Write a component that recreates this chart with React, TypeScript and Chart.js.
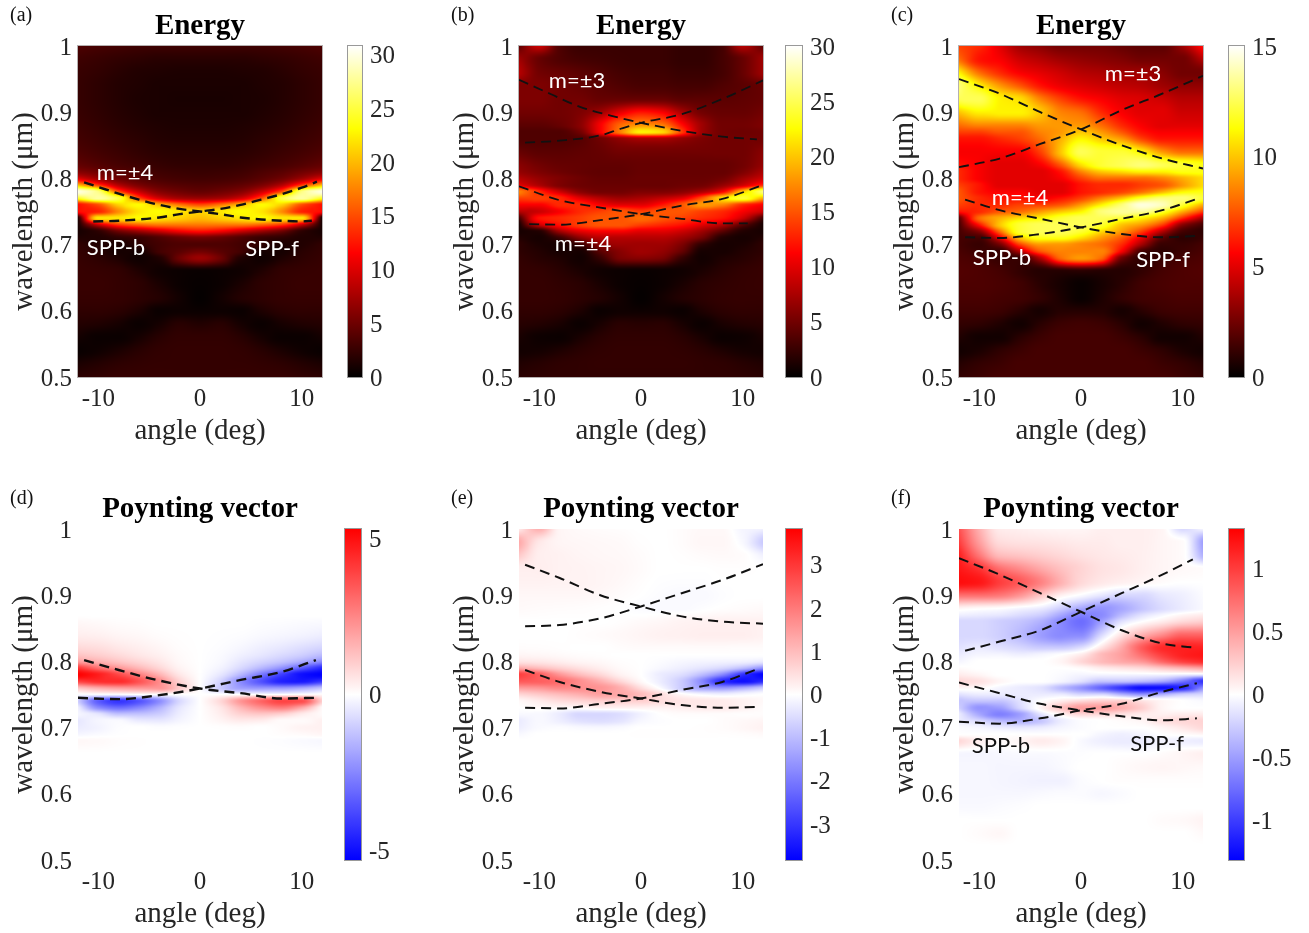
import React, { useEffect, useRef } from "react";
import { Chart, registerables } from "chart.js";

Chart.register(...registerables);

const angles = [-12, -10, -8, -6, -4, -2, 0, 2, 4, 6, 8, 10, 12];
const wavelengths = [1, 0.98, 0.96, 0.94, 0.92, 0.9, 0.88, 0.87, 0.86, 0.84, 0.82, 0.81, 0.8, 0.79, 0.78, 0.77, 0.76, 0.75, 0.74, 0.73, 0.72, 0.71, 0.7, 0.69, 0.68, 0.66, 0.64, 0.62, 0.6, 0.58, 0.56, 0.54, 0.52, 0.5];
const angleTicks = [-10, 0, 10];
const wavelengthTicks = [0.5, 0.6, 0.7, 0.8, 0.9, 1];
const Z = [0, 0, 0, 0, 0, 0, 0, 0, 0, 0, 0, 0, 0];

const energyA = [
  [3.5,3.2,3,2.8,2.8,2.8,2.8,2.8,2.8,2.8,3,3.2,3.5],
  [2.8,2.5,2.2,2,1.8,1.8,1.8,1.8,1.8,2,2.2,2.5,2.8],
  [2.5,2.2,1.8,1.5,1.4,1.3,1.3,1.3,1.4,1.5,1.8,2.2,2.5],
  [2.4,2,1.6,1.4,1.2,1.2,1.2,1.2,1.2,1.4,1.6,2,2.4],
  [2.4,2,1.6,1.3,1.2,1.1,1.1,1.1,1.2,1.3,1.6,2,2.4],
  [2.5,2.1,1.7,1.4,1.2,1.2,1.2,1.2,1.2,1.4,1.7,2.1,2.5],
  [2.7,2.3,1.9,1.6,1.4,1.3,1.3,1.3,1.4,1.6,1.9,2.3,2.7],
  [2.85,2.45,2.05,1.75,1.5,1.4,1.4,1.4,1.5,1.75,2.05,2.45,2.85],
  [3,2.6,2.2,1.9,1.6,1.5,1.5,1.5,1.6,1.9,2.2,2.6,3],
  [3.5,3,2.6,2.2,1.9,1.8,1.8,1.8,1.9,2.2,2.6,3,3.5],
  [4.5,3.8,3.2,2.8,2.4,2.2,2.2,2.2,2.4,2.8,3.2,3.8,4.5],
  [6,5,4,3.4,2.8,2.6,2.5,2.6,2.8,3.4,4,5,6],
  [10,7,5,4,3.3,3,2.9,3,3.3,4,5,7,10],
  [20,14,8,5.5,4.3,3.8,3.6,3.8,4.3,5.5,8,14,20],
  [30,27,15,9,6,5,4.5,5,6,9,15,27,30],
  [24,28,25,15,9.5,7.5,7,7.5,9.5,15,25,28,24],
  [12,15,21,23,20,17,15,17,20,23,21,15,12],
  [12,13,18,22,23,22,21,22,23,22,18,13,12],
  [1,22,22,23,22,21,20,21,22,23,22,22,1],
  [1,9,14,16,17,17,17,17,17,16,14,9,1],
  [1,2,5,7,9,11,12,11,9,7,5,2,1],
  [1.5,1.5,2,2.5,3.5,4.5,5,4.5,3.5,2.5,2,1.5,1.5],
  [2.2,1.5,1.2,2,3,3.5,3.5,3.5,3,2,1.2,1.5,2.2],
  [2.3,1.8,1,1,3,4,5,4,3,1,1,1.8,2.3],
  [2.4,2,1.3,0.7,1.5,5,7,5,1.5,0.7,1.3,2,2.4],
  [2.5,2.4,2.2,1.4,0.7,0.5,0.4,0.5,0.7,1.4,2.2,2.4,2.5],
  [2.5,2.5,2.3,2,1.2,0.5,0.3,0.5,1.2,2,2.3,2.5,2.5],
  [2.4,2.4,2.3,2,1.6,0.8,0.2,0.8,1.6,2,2.3,2.4,2.4],
  [2.1,2.1,1.9,1.3,0.5,0.6,0.5,0.6,0.5,1.3,1.9,2.1,2.1],
  [1.6,1.4,1,0.5,1,1.8,1.5,1.8,1,0.5,1,1.4,1.6],
  [0.9,0.5,0.5,1,1.8,2.2,2.2,2.2,1.8,1,0.5,0.5,0.9],
  [0.4,0.7,1.2,1.8,2.2,2.3,2.3,2.3,2.2,1.8,1.2,0.7,0.4],
  [1.2,1.6,2,2.2,2.3,2.3,2.3,2.3,2.3,2.2,2,1.6,1.2],
  [2,2.2,2.4,2.4,2.4,2.4,2.4,2.4,2.4,2.4,2.4,2.2,2],
];

const energyB = [
  [4,9,3.5,2.5,2.5,2.5,2.5,2.5,2.2,2.2,3,8,4],
  [7,4.5,3.5,3,2.8,2.6,2.5,2.5,2.2,2.2,3,4.5,7],
  [8,5,4.5,4,3.5,3,2.8,2.8,2.5,2.5,3,4.5,7],
  [5.5,5.5,5,4.5,4,3.5,3.2,3.2,3,3,3.5,4,4.5],
  [5.5,5.5,5,5,4.5,4.5,4.5,4.5,4,4,4,4.2,4.5],
  [5,5,5,5.5,7,10,12,11,7.5,5,4.5,4.5,5],
  [4,4,4.5,6,11,16,18,17,12,7,5,5,5.5],
  [3.5,3.5,3.5,5,11,17,22,21,14,7,5,4.8,5],
  [3.5,3.5,3.5,3.8,5,6.5,7.5,7.5,6.5,5.5,5,5,5],
  [4.5,4,4,4.2,4.5,5,5,5,5,5,5,5,6],
  [6,5,4.5,4.4,4.3,4.3,4.5,4.5,4.5,4.5,4.5,5,6.5],
  [6.5,5.5,4.8,4.4,4.2,4.2,4.5,4.5,4.5,4.5,4.5,5.5,7.5],
  [8,6.5,5.5,4.8,4.4,4.4,4.6,4.6,4.6,4.6,5,7,9],
  [10,7.5,5.5,4.8,4.6,4.6,4.6,4.6,4.8,5,6.5,9,13],
  [17,13,9,6,5,5,5.5,5.5,6,7.5,11,20,26],
  [14,14,13,10,8,7,7.5,8.5,10,15,21,24,19],
  [11,11,13,13,11,10,10,12,15,18,17,13,11],
  [8,9,11,13,14,15,14,15,15,14,13,11,9],
  [3,12,13,14,15,15,16,15,14,13,12,9,3],
  [1,9,12,14,15,15,14,13,12,10,8,4,1],
  [1,1.5,7,10,11,11,10,10,9,7,4,1.5,1],
  [1.5,1,2.5,6,8,8,8,8,7,5,1.5,1,1.5],
  [2,1.2,1,2.5,6,7,7,7,5.5,2,1,1.2,2],
  [2,1.5,1,1,4,6,7,6.5,4.5,1,1,1.5,2],
  [2.2,1.7,1.3,0.8,2.5,5.5,6,5.5,2.5,0.8,1.3,1.7,2.2],
  [2.3,2.2,1.8,1.2,0.7,0.5,0.4,0.5,0.7,1.2,1.8,2.2,2.4],
  [2.3,2.3,2.1,1.8,1.1,0.5,0.3,0.5,1.1,1.8,2.1,2.3,2.4],
  [2.3,2.3,2.2,1.9,1.5,0.8,0.2,0.8,1.5,1.9,2.2,2.3,2.3],
  [2.1,2.1,1.9,1.3,0.5,0.7,0.6,0.7,0.5,1.3,1.9,2.1,2.1],
  [1.7,1.5,1.1,0.5,1.1,1.8,1.7,1.8,1.1,0.5,1.1,1.5,1.7],
  [1.1,0.6,0.5,1.1,1.8,2.1,2.1,2.1,1.8,1.1,0.5,0.6,1.1],
  [0.8,0.9,1.3,1.8,2.1,2.2,2.2,2.2,2.1,1.8,1.3,0.9,0.8],
  [1.4,1.7,2,2.1,2.2,2.2,2.2,2.2,2.2,2.1,2,1.7,1.4],
  [1.8,2,2.1,2.1,2.1,2.1,2.1,2.1,2.1,2.1,2.1,2,1.8],
];

const energyC = [
  [7,6.5,5,3.5,3,2.5,2.5,2.5,2.2,2,2,3.5,6],
  [8,6,5.5,4.5,4,3.5,3.2,3,2.8,2.5,2.5,2.5,4],
  [11,8,6.5,5.5,5,4.5,4,3.8,3.5,3.5,3,2.5,2.5],
  [13,11,9,7.5,6,5.2,4.8,4.5,4.2,4,3.5,3.2,3.2],
  [12.5,12.5,11,10.5,8.5,7,6,5.5,5,4.8,4.5,4,4],
  [10,11,11,11,10,8.5,8,6.5,5.5,5,5,4.5,4.5],
  [8,8.5,8.5,8.5,9,9,9,8,6.5,5.5,5,5,5],
  [7,7,7.5,7.5,8.5,9,10,9,7.5,6,5.5,5.5,5.5],
  [6,6,6.5,7,8,9.5,11,10,9,7,6,6,6],
  [5.5,5.5,5.5,5.5,7,10,12.5,12,12,11,9,8,8],
  [6,5.5,5,5,5.5,7.5,10.5,12,12.5,13,12.5,12,11.5],
  [6.5,5.5,5,5,5,6,8.5,10,10.5,11,11,11.5,11.5],
  [6.5,5.5,5,5,5,5.5,7,8,8,8,8.5,9.5,10.5],
  [7,6,5,5,5,5,6,6.5,6.5,7,7.5,9,10.5],
  [7.5,6,5.5,5.5,5,5,6,6.5,7,8,9.5,11,11.5],
  [7.5,6.5,6,6,5.5,6,7,8.5,10,12,13,13,12],
  [7,6.5,6.5,7,7,7.5,9,11,13,14.5,14,12,9.5],
  [6,6.5,7.5,8,9,10,11,13,13.5,13.5,12,9.5,7],
  [2,8,9.5,10.5,11,12,12.5,12.5,12,11,9.5,6.5,3.5],
  [1.5,6,10,12,12.5,12.5,12.5,12,10,9,7,3,1.5],
  [1.5,3,8,12,12.5,12.5,12,10.5,9,7,4,1.5,1],
  [1.5,1.5,5,10,11.5,11.5,10.5,9,7.5,5,2,1,1.2],
  [1.5,1.2,2.5,7,9,9,8.5,8,6.5,3.5,1.2,1.2,1.5],
  [1.6,1.3,1.2,4,7.5,8.5,8.5,8.5,5.5,1.5,1,1.3,1.6],
  [1.7,1.5,1.2,1.2,4,8,9,8,2.5,1,1.2,1.5,1.7],
  [1.8,1.7,1.5,1.1,0.8,0.8,0.9,0.8,0.8,1.1,1.5,1.7,1.8],
  [1.7,1.7,1.6,1.4,0.9,0.5,0.2,0.5,0.9,1.4,1.6,1.7,1.7],
  [1.6,1.6,1.5,1.4,1.1,0.6,0.2,0.6,1.1,1.4,1.5,1.6,1.6],
  [1.4,1.4,1.3,0.9,0.5,0.8,0.8,0.8,0.5,0.9,1.3,1.4,1.4],
  [1.1,1,0.7,0.4,0.9,1.3,1.4,1.3,0.9,0.4,0.7,1,1.1],
  [0.7,0.4,0.4,0.9,1.3,1.5,1.5,1.5,1.3,0.9,0.4,0.4,0.7],
  [0.4,0.6,1,1.3,1.5,1.5,1.5,1.5,1.5,1.3,1,0.6,0.4],
  [0.8,1.1,1.3,1.5,1.5,1.5,1.5,1.5,1.5,1.5,1.3,1.1,0.8],
  [1.1,1.3,1.5,1.5,1.5,1.5,1.5,1.5,1.5,1.5,1.5,1.3,1.1],
];

const poyntingD = [
  Z, Z, Z, Z, Z, Z, Z, Z,
  [0.15,0.1,0.05,0.03,0,0,0,0,0,-0.03,-0.05,-0.08,-0.1],
  [0.35,0.3,0.2,0.14,0.06,0.02,0,-0.02,-0.05,-0.12,-0.18,-0.25,-0.35],
  [0.8,0.7,0.5,0.35,0.2,0.06,0,-0.06,-0.18,-0.35,-0.5,-0.7,-0.9],
  [1.2,1,0.75,0.5,0.3,0.1,0,-0.1,-0.3,-0.5,-0.75,-1,-1.4],
  [2,1.6,1.2,0.85,0.5,0.14,0,-0.14,-0.5,-0.85,-1.2,-1.7,-2.4],
  [4.2,3,2.2,1.5,0.85,0.25,0,-0.25,-0.8,-1.5,-2.3,-3.4,-4.5],
  [5.3,4.7,3.8,2.7,1.6,0.5,0,-0.5,-1.5,-2.8,-4,-5,-5.3],
  [4,4.4,4.4,3.6,2.4,0.9,0,-0.9,-2.4,-3.6,-4.6,-4.8,-4.2],
  [1.3,1.8,2.1,2.2,2.2,1.1,0,-1.1,-2,-2.2,-2.2,-1.9,-1.3],
  [-0.1,-0.1,-0.1,0,0,0,0,0,0,0,0,0.1,0.1],
  [-1,-3.4,-4.2,-3.6,-2.4,-0.8,0,0.8,2.2,3.2,3.9,3.7,1],
  [-0.3,-2.4,-3,-2.5,-1.6,-0.5,0,0.5,1.5,2.3,2.7,1.8,0.1],
  [-0.2,-0.5,-1.2,-1.2,-1,-0.35,0,0.35,0.9,1.1,0.9,0.4,0.1],
  [-0.5,-0.2,-0.1,-0.4,-0.45,-0.2,0,0.2,0.4,0.35,0.1,0.1,0.3],
  [-0.4,-0.25,-0.05,0,-0.05,-0.02,0,0.02,0.05,0,0.1,0.25,0.3],
  [-0.2,-0.1,-0.02,0,0,0,0,0,0,0,0.05,0.1,0.2],
  [0.15,0.12,0.05,0.02,0,0,0,0,0,-0.02,-0.05,-0.1,-0.15],
  Z, Z, Z, Z, Z, Z, Z, Z, Z,
];

const poyntingE = [
  [0.3,1.2,0.15,0.08,0.05,0.03,0,0,0.05,0.1,0.1,-0.15,-0.2],
  [1.3,0.35,0.15,0.12,0.1,0.08,0.02,0,0.05,0.12,0.12,-0.1,-0.8],
  [0.8,0.25,0.2,0.15,0.12,0.1,0.05,0,0.02,0.06,0.08,0.05,-0.2],
  [0.25,0.25,0.2,0.18,0.15,0.12,0.06,0,0,0,0.02,0.02,0],
  [0.2,0.2,0.18,0.18,0.15,0.1,0.03,-0.02,-0.03,-0.03,0,0,0],
  [0.12,0.12,0.12,0.12,0.1,0.05,0,-0.05,-0.08,-0.08,-0.03,0,0],
  [0.08,0.06,0.05,0.04,0.02,0,-0.05,-0.08,-0.08,-0.03,0.02,0.05,0.08],
  [0.04,0.03,0.02,0.02,0.01,0.01,0,0.02,0.05,0.08,0.12,0.13,0.14],
  [0,0,0,0,0,0.03,0.08,0.12,0.18,0.2,0.22,0.22,0.2],
  [0,0,0,0.03,0.06,0.1,0.15,0.2,0.22,0.25,0.25,0.25,0.2],
  [0.05,0.04,0.02,0,0,0.04,0.06,0.06,0.06,0.06,0.06,0.05,0.05],
  [0.15,0.12,0.08,0.04,0.02,0,0,0,0,0,0,0,0],
  [0.4,0.35,0.25,0.15,0.1,0.03,0,-0.05,-0.12,-0.16,-0.18,-0.2,-0.3],
  [1.3,1,0.7,0.45,0.25,0.08,0,-0.12,-0.25,-0.4,-0.6,-1,-1.7],
  [2.9,2.4,1.6,1,0.6,0.2,0,-0.3,-0.5,-1,-1.8,-3.1,-3.8],
  [2.5,2.4,2.2,1.7,1.2,0.6,0.1,-0.3,-0.8,-1.8,-3.2,-3.6,-3.2],
  [1.5,1.6,1.8,1.7,1.6,1.2,0.5,-0.1,-0.8,-1.4,-1.6,-1.3,-0.8],
  [0.6,0.8,1,1.2,1.4,1.3,1,0.5,0.1,-0.1,-0.2,-0.1,0],
  [0.1,0.3,0.5,0.6,0.7,0.7,0.7,0.5,0.4,0.35,0.3,0.2,0.1],
  [0,0.1,0.1,0.1,0.2,0.2,0.2,0.2,0.25,0.3,0.3,0.2,0.05],
  [-0.1,-0.1,-0.3,-0.6,-0.6,-0.5,-0.2,0,0.05,0.05,0.05,0.03,0.05],
  [-0.3,-0.1,-0.25,-0.45,-0.5,-0.4,-0.12,-0.03,0,0,0.05,0.1,0.15],
  [-0.25,-0.08,-0.05,-0.1,-0.12,-0.08,0,0,0,0.02,0.05,0.12,0.2],
  [-0.1,0,0,0,0,0,0.02,0.02,0.02,0.02,0.02,0.04,0.08],
  Z, Z, Z, Z, Z, Z, Z, Z, Z, Z,
];

const poyntingF = [
  [0.9,0.4,0.1,0.08,0.06,0.05,0.05,0.08,0.08,0.08,0.05,-0.2,-0.05],
  [1,0.5,0.18,0.15,0.14,0.12,0.1,0.1,0.08,0.08,0.05,0.02,-0.5],
  [1.15,0.7,0.35,0.3,0.25,0.2,0.15,0.12,0.1,0.08,0.05,0.02,-0.4],
  [1.2,1.05,0.75,0.6,0.45,0.32,0.22,0.15,0.12,0.08,0.05,0.03,0.02],
  [1.25,1.2,1,0.85,0.65,0.4,0.2,0.12,0.08,0.05,0.02,0,0],
  [0.75,0.75,0.7,0.55,0.3,0.08,-0.02,-0.12,-0.2,-0.2,-0.12,-0.08,-0.02],
  [0.05,0.02,0,-0.05,-0.1,-0.25,-0.45,-0.55,-0.45,-0.3,-0.18,-0.1,-0.03],
  [-0.08,-0.1,-0.12,-0.18,-0.25,-0.45,-0.65,-0.6,-0.35,-0.15,-0.04,0.05,0.1],
  [-0.2,-0.2,-0.25,-0.3,-0.4,-0.6,-0.75,-0.5,-0.15,0,0.1,0.2,0.25],
  [-0.2,-0.2,-0.25,-0.35,-0.5,-0.6,-0.6,-0.2,0.15,0.4,0.6,0.8,0.8],
  [-0.15,-0.1,-0.15,-0.2,-0.25,-0.25,-0.15,0.15,0.45,0.85,1.1,1.15,1.15],
  [-0.1,-0.05,-0.05,-0.08,-0.05,0,0.1,0.35,0.5,0.75,1,1.15,1.2],
  [-0.05,0,0,0,0,0.05,0.2,0.35,0.45,0.55,0.8,1,1.1],
  [0.02,0,0,0,0,0,0.03,0.1,0.15,0.2,0.3,0.4,0.5],
  [0.1,0.05,0,0,0,-0.02,-0.05,-0.05,-0.05,-0.05,-0.05,-0.08,-0.1],
  [0.2,0.15,0.05,0,0,-0.05,-0.15,-0.3,-0.3,-0.35,-0.45,-0.7,-1.05],
  [0.05,0.03,-0.05,-0.1,-0.15,-0.35,-0.55,-0.8,-1.05,-1.25,-1.25,-1.1,-0.6],
  [-0.15,-0.1,-0.1,-0.1,-0.1,-0.1,-0.2,-0.2,-0.4,-0.55,-0.4,-0.25,-0.2],
  [-0.3,-0.3,-0.3,-0.15,0,0.1,0.2,0.25,0.25,0.15,0.05,0,-0.03],
  [-0.25,-0.55,-0.5,-0.2,0.05,0.3,0.5,0.5,0.4,0.25,0.05,0,0],
  [-0.1,-0.45,-0.65,-0.5,-0.15,0.05,0.2,0.2,0.15,0.1,0.08,0.1,0.1],
  [-0.1,-0.2,-0.35,-0.4,-0.3,-0.1,-0.02,0,0.02,0.05,0.15,0.2,0.22],
  [-0.02,-0.05,-0.1,-0.12,-0.1,-0.05,-0.02,0,0,0,0.05,0.12,0.2],
  [0,0,0,0,0,0,0,-0.05,-0.08,-0.05,0,0.02,0.05],
  [0.2,0.08,0.02,0.05,0.1,0.06,-0.03,-0.08,-0.1,-0.1,-0.06,-0.08,-0.1],
  [-0.05,-0.05,-0.04,-0.03,-0.03,-0.02,-0.01,0,0,0,0.02,0.05,0.08],
  [-0.04,-0.04,-0.05,-0.05,-0.05,-0.03,0,0,0.02,0.04,0.05,0.04,0.03],
  [-0.04,-0.04,-0.05,-0.06,-0.07,-0.07,-0.02,0,0.01,0.01,0.01,0.01,0.01],
  [-0.04,-0.04,-0.04,-0.04,-0.03,-0.02,-0.02,-0.04,-0.02,0,0,0,0],
  [-0.03,-0.03,-0.02,-0.01,0,0,0,0,0,0,0,0,0],
  [0,0,0,0,0,0,0,0,0,0,0.02,0.03,0.06],
  [0,0.02,0.04,0,0,0,0,0,0,0,0,0,0.03],
  Z, Z,
];

// Dashed mode curves as [angle, wavelength] readings
const curvesA = [
  [[-11.4,0.794],[-10,0.787],[-8,0.777],[-6,0.768],[-4,0.76],[-2,0.754],[0,0.75],[2,0.746],[4,0.741],[6,0.738],[8,0.736],[10,0.735],[11,0.736]],
  [[-10.5,0.735],[-8,0.736],[-6,0.738],[-4,0.741],[-2,0.746],[0,0.75],[2,0.754],[4,0.76],[6,0.768],[8,0.776],[10,0.786],[11.5,0.795]],
];
const curvesB = [
  [[-12,0.949],[-8.9,0.9275],[-6,0.908],[-3,0.895],[0,0.884],[4,0.872],[8,0.863],[11.4,0.859]],
  [[-11.4,0.854],[-8,0.857],[-4,0.865],[-2,0.875],[0,0.884],[4,0.897],[8,0.92],[12,0.948]],
  [[-12,0.788],[-8,0.767],[-4,0.756],[0,0.746],[4,0.739],[8,0.732],[10.5,0.732]],
  [[-11,0.731],[-8,0.73],[-4,0.737],[0,0.746],[4,0.759],[8,0.769],[12,0.79]],
];
const curvesC = [
  [[-12,0.95],[-8,0.928],[-4,0.9],[0,0.874],[4,0.85],[8,0.83],[12,0.815]],
  [[-12,0.817],[-8,0.83],[-4,0.852],[0,0.874],[4,0.903],[8,0.928],[12,0.955]],
  [[-11.4,0.768],[-8,0.752],[-4,0.739],[0,0.726],[4,0.716],[8,0.711],[11.4,0.713]],
  [[-11.4,0.711],[-8,0.71],[-4,0.716],[0,0.726],[4,0.739],[8,0.752],[11.4,0.769]],
];
const curvesD = [
  [[-11.4,0.802],[-8,0.787],[-4,0.771],[0,0.759],[4,0.752],[8,0.744],[11.4,0.745]],
  [[-12,0.745],[-8,0.743],[-4,0.749],[0,0.759],[4,0.772],[8,0.784],[11.4,0.802]],
];
const curvesE = [
  [[-11.4,0.946],[-8,0.926],[-4,0.9],[0,0.883],[4,0.868],[8,0.86],[12,0.857]],
  [[-11.4,0.853],[-8,0.855],[-4,0.865],[0,0.883],[4,0.903],[8,0.923],[12,0.947]],
  [[-11.4,0.787],[-8,0.769],[-4,0.754],[0,0.744],[4,0.734],[8,0.73],[11.4,0.731]],
  [[-11.4,0.73],[-8,0.729],[-4,0.736],[0,0.744],[4,0.757],[8,0.769],[11.4,0.788]],
];
const curvesF = [
  [[-12,0.956],[-8,0.931],[-4,0.903],[0,0.875],[4,0.847],[8,0.827],[11,0.821]],
  [[-11.4,0.816],[-8,0.83],[-4,0.847],[0,0.875],[4,0.903],[8,0.931],[11,0.954]],
  [[-12,0.768],[-8,0.752],[-4,0.736],[0,0.726],[4,0.717],[8,0.711],[11.4,0.714]],
  [[-12,0.709],[-8,0.706],[-4,0.714],[0,0.726],[4,0.736],[8,0.754],[11.4,0.767]],
];

const barTicksA = [0, 5, 10, 15, 20, 25, 30];
const barTicksC = [0, 5, 10, 15];
const barTicksD = [-5, 0, 5];
const barTicksE = [-3, -2, -1, 0, 1, 2, 3];
const barTicksF = [-1, -0.5, 0, 0.5, 1];

const SERIF = "'Liberation Serif', serif";
const INK = "#262626";

const clamp = (v: number) => Math.max(0, Math.min(1, v));
const hot = (t: number): number[] => [clamp(t / 0.375) * 255, clamp((t - 0.375) / 0.375) * 255, clamp((t - 0.75) / 0.25) * 255];
const bwr = (t: number): number[] => {
  const s = Math.max(-1, Math.min(1, t * 2 - 1));
  return s >= 0 ? [255, (1 - s) * 255, (1 - s) * 255] : [(1 + s) * 255, (1 + s) * 255, 255];
};

type PanelCfg = {
  letter: string; title: string; left: number; top: number; grid: number[][]; curves: number[][][];
  cmap: "hot" | "bwr"; vmin: number; vmax: number; barLeft: number; barWidth: number; barTicks: number[];
  lineWidth: number; framed: boolean;
  notes: { text: string; cx: number; cy: number; color: string }[];
};

const PLOT_W = 244;
const PLOT_H = 331;

const panels: PanelCfg[] = [
  { letter: "(a)", title: "Energy", left: 78, top: 46, grid: energyA, curves: curvesA, cmap: "hot", vmin: 0, vmax: 30.8, barLeft: 347, barWidth: 16, barTicks: barTicksA, lineWidth: 2.4, framed: true,
    notes: [{ text: "m=±4", cx: 125, cy: 172, color: "#fff" }, { text: "SPP-b", cx: 116, cy: 247, color: "#fff" }, { text: "SPP-f", cx: 272, cy: 248, color: "#fff" }] },
  { letter: "(b)", title: "Energy", left: 519, top: 46, grid: energyB, curves: curvesB, cmap: "hot", vmin: 0, vmax: 30, barLeft: 785, barWidth: 18, barTicks: barTicksA, lineWidth: 1.8, framed: true,
    notes: [{ text: "m=±3", cx: 577, cy: 80, color: "#fff" }, { text: "m=±4", cx: 583, cy: 243, color: "#fff" }] },
  { letter: "(c)", title: "Energy", left: 959, top: 46, grid: energyC, curves: curvesC, cmap: "hot", vmin: 0, vmax: 15, barLeft: 1228, barWidth: 17, barTicks: barTicksC, lineWidth: 1.9, framed: true,
    notes: [{ text: "m=±3", cx: 1133, cy: 73, color: "#fff" }, { text: "m=±4", cx: 1020, cy: 197, color: "#fff" }, { text: "SPP-b", cx: 1002, cy: 257, color: "#fff" }, { text: "SPP-f", cx: 1163, cy: 259, color: "#fff" }] },
  { letter: "(d)", title: "Poynting vector", left: 78, top: 529, grid: poyntingD, curves: curvesD, cmap: "bwr", vmin: -5.3, vmax: 5.3, barLeft: 344, barWidth: 18, barTicks: barTicksD, lineWidth: 2.4, framed: false, notes: [] },
  { letter: "(e)", title: "Poynting vector", left: 519, top: 529, grid: poyntingE, curves: curvesE, cmap: "bwr", vmin: -3.83, vmax: 3.83, barLeft: 785, barWidth: 18, barTicks: barTicksE, lineWidth: 2, framed: false, notes: [] },
  { letter: "(f)", title: "Poynting vector", left: 959, top: 529, grid: poyntingF, curves: curvesF, cmap: "bwr", vmin: -1.31, vmax: 1.31, barLeft: 1228, barWidth: 17, barTicks: barTicksF, lineWidth: 2, framed: false,
    notes: [{ text: "SPP-b", cx: 1001, cy: 745, color: "#111" }, { text: "SPP-f", cx: 1157, cy: 743, color: "#111" }] },
];

// Monotone cubic through a table row, used only to paint the grid smoothly.
function mono(p: ArrayLike<number>, v: ArrayLike<number>, i: number, q: number): number {
  const h = p[i + 1] - p[i];
  const t = clamp((q - p[i]) / h);
  const d = (v[i + 1] - v[i]) / h;
  const dl = i > 0 ? (v[i] - v[i - 1]) / (p[i] - p[i - 1]) : d;
  const dr = i < p.length - 2 ? (v[i + 2] - v[i + 1]) / (p[i + 2] - p[i + 1]) : d;
  const m0 = dl * d <= 0 ? 0 : (2 * dl * d) / (dl + d);
  const m1 = d * dr <= 0 ? 0 : (2 * d * dr) / (d + dr);
  const t2 = t * t;
  const t3 = t2 * t;
  return (2 * t3 - 3 * t2 + 1) * v[i] + (t3 - 2 * t2 + t) * h * m0 + (-2 * t3 + 3 * t2) * v[i + 1] + (t3 - t2) * h * m1;
}

const depth = wavelengths.map((w) => -w);
const colBuffer = new Float64Array(wavelengths.length);

function sampleGrid(grid: number[][], a: number, w: number): number {
  let c = 0;
  while (c < angles.length - 2 && a > angles[c + 1]) c++;
  let r = 0;
  while (r < wavelengths.length - 2 && w < wavelengths[r + 1]) r++;
  for (let k = Math.max(0, r - 1); k <= Math.min(wavelengths.length - 1, r + 2); k++) {
    colBuffer[k] = mono(angles, grid[k], c, a);
  }
  return mono(depth, colBuffer, r, -w);
}

function heatPlugin(cfg: PanelCfg) {
  return {
    id: "heat" + cfg.letter,
    beforeDatasetsDraw(chart: any) {
      const { ctx, chartArea: ca, scales } = chart;
      const w = Math.round(ca.right - ca.left);
      const h = Math.round(ca.bottom - ca.top);
      const off = document.createElement("canvas");
      off.width = w;
      off.height = h;
      const octx = off.getContext("2d")!;
      const img = octx.createImageData(w, h);
      const map = cfg.cmap === "hot" ? hot : bwr;
      for (let py = 0; py < h; py++) {
        const wl = scales.y.getValueForPixel(ca.top + py + 0.5);
        for (let px = 0; px < w; px++) {
          const ang = scales.x.getValueForPixel(ca.left + px + 0.5);
          const v = sampleGrid(cfg.grid, ang, wl);
          const rgb = map((v - cfg.vmin) / (cfg.vmax - cfg.vmin));
          const i = (py * w + px) * 4;
          img.data[i] = rgb[0];
          img.data[i + 1] = rgb[1];
          img.data[i + 2] = rgb[2];
          img.data[i + 3] = 255;
        }
      }
      octx.putImageData(img, 0, 0);
      ctx.drawImage(off, ca.left, ca.top);
    },
    afterDraw(chart: any) {
      if (!cfg.framed) return;
      const { ctx, chartArea: ca } = chart;
      ctx.save();
      ctx.strokeStyle = "#b5b0b0";
      ctx.lineWidth = 1;
      ctx.strokeRect(ca.left - 0.5, ca.top - 0.5, ca.right - ca.left + 1, ca.bottom - ca.top + 1);
      ctx.restore();
    },
  };
}

const LEFT_GUTTER = 70;
const TOP_GUTTER = 42;
const BOTTOM_GUTTER = 72;

function HeatPanel({ cfg }: { cfg: PanelCfg }) {
  const ref = useRef<HTMLCanvasElement>(null);
  useEffect(() => {
    const chart = new Chart(ref.current!, {
      type: "scatter",
      data: {
        datasets: cfg.curves.map((c, i) => ({
          label: "curve " + (i + 1),
          data: c.map((p) => ({ x: p[0], y: p[1] })),
          showLine: true,
          pointRadius: 0,
          borderColor: "#111",
          borderWidth: cfg.lineWidth,
          borderDash: [10, 6],
          cubicInterpolationMode: "monotone",
          fill: false,
        })),
      },
      options: {
        animation: false,
        responsive: false,
        events: [],
        layout: { autoPadding: false, padding: { top: 5.3, right: 10 } },
        plugins: {
          legend: { display: false },
          tooltip: { enabled: false },
          title: { display: true, text: cfg.title, color: "#000", font: { family: SERIF, size: 29, weight: "bold" }, padding: { top: 0.3, bottom: 1.6 }, fullSize: false },
        },
        scales: {
          x: {
            type: "linear", min: -12, max: 12, grid: { display: false, drawTicks: false }, border: { display: false },
            afterBuildTicks: (s: any) => { s.ticks = angleTicks.map((value) => ({ value })); },
            afterFit: (s: any) => { s.height = BOTTOM_GUTTER; },
            ticks: { color: INK, font: { family: SERIF, size: 25 }, padding: 7, maxRotation: 0, autoSkip: false },
            title: { display: true, text: "angle (deg)", color: INK, font: { family: SERIF, size: 29 }, padding: { top: 0, bottom: 0 } },
          },
          y: {
            type: "linear", min: 0.5, max: 1, grid: { display: false, drawTicks: false }, border: { display: false },
            afterBuildTicks: (s: any) => { s.ticks = wavelengthTicks.map((value) => ({ value })); },
            afterFit: (s: any) => { s.width = LEFT_GUTTER; },
            ticks: { color: INK, font: { family: SERIF, size: 25 }, padding: 6, labelOffset: 2, autoSkip: false, callback: (v: any) => (v === 1 ? "1" : Number(v).toFixed(1)) },
            title: { display: true, text: "wavelength (μm)", color: INK, font: { family: SERIF, size: 29 }, padding: { top: -1, bottom: 0 } },
          },
        },
      } as any,
      plugins: [heatPlugin(cfg)],
    } as any);
    return () => chart.destroy();
  }, [cfg]);
  return (
    <canvas
      ref={ref}
      width={LEFT_GUTTER + PLOT_W + 10}
      height={TOP_GUTTER + PLOT_H + BOTTOM_GUTTER}
      style={{ position: "absolute", left: cfg.left - LEFT_GUTTER, top: cfg.top - TOP_GUTTER, display: "block" }}
    />
  );
}

function ColorBar({ cfg }: { cfg: PanelCfg }) {
  const ref = useRef<HTMLCanvasElement>(null);
  useEffect(() => {
    const map = cfg.cmap === "hot" ? hot : bwr;
    const chart = new Chart(ref.current!, {
      type: "bar",
      data: {
        labels: ["scale"],
        datasets: [{
          label: "scale",
          data: [[cfg.vmin, cfg.vmax]],
          barPercentage: 1,
          categoryPercentage: 1,
          borderWidth: 0,
          backgroundColor: (c: any) => {
            const ca = c.chart.chartArea;
            if (!ca) return "#000";
            const g = c.chart.ctx.createLinearGradient(0, ca.bottom, 0, ca.top);
            for (let i = 0; i <= 48; i++) {
              const rgb = map(i / 48);
              g.addColorStop(i / 48, `rgb(${rgb[0] | 0},${rgb[1] | 0},${rgb[2] | 0})`);
            }
            return g;
          },
        }],
      },
      options: {
        animation: false,
        responsive: false,
        events: [],
        layout: { autoPadding: false, padding: { top: 40, bottom: 40 } },
        plugins: { legend: { display: false }, tooltip: { enabled: false } },
        scales: {
          x: { display: false },
          y: {
            position: "right", min: cfg.vmin, max: cfg.vmax, grid: { display: false, drawTicks: false }, border: { display: false },
            afterBuildTicks: (s: any) => { s.ticks = cfg.barTicks.map((value) => ({ value })); },
            afterFit: (s: any) => { s.width = 70; },
            ticks: { color: INK, font: { family: SERIF, size: 25 }, padding: 7, labelOffset: 2, autoSkip: false, callback: (v: any) => String(v) },
          },
        },
      } as any,
      plugins: [{
        id: "barFrame",
        afterDraw(ch: any) {
          const { ctx, chartArea: ca } = ch;
          ctx.save();
          ctx.strokeStyle = "#999";
          ctx.lineWidth = 1;
          ctx.strokeRect(ca.left + 0.5, ca.top - 0.5, ca.right - ca.left - 1, ca.bottom - ca.top + 1);
          ctx.restore();
        },
      }],
    } as any);
    return () => chart.destroy();
  }, [cfg]);
  return (
    <canvas
      ref={ref}
      width={cfg.barWidth + 70}
      height={PLOT_H + 80}
      style={{ position: "absolute", left: cfg.barLeft, top: cfg.top - 40, display: "block" }}
    />
  );
}

export default function App() {
  return (
    <div style={{ position: "absolute", left: 0, top: 0, width: 1309, height: 933, overflow: "hidden", background: "#fff" }}>
      {panels.map((p) => (
        <React.Fragment key={p.letter}>
          <HeatPanel cfg={p} />
          <ColorBar cfg={p} />
          <span style={{ position: "absolute", left: p.left - 68, top: p.top - 44, fontFamily: SERIF, fontSize: 20, lineHeight: "24px", color: "#111" }}>{p.letter}</span>
          {p.notes.map((n) => (
            <span key={n.text} style={{ position: "absolute", left: n.cx, top: n.cy, transform: "translate(-50%,-50%)", fontFamily: "Lato, sans-serif", fontSize: 22, lineHeight: "26px", color: n.color, whiteSpace: "nowrap" }}>{n.text}</span>
          ))}
        </React.Fragment>
      ))}
    </div>
  );
}
